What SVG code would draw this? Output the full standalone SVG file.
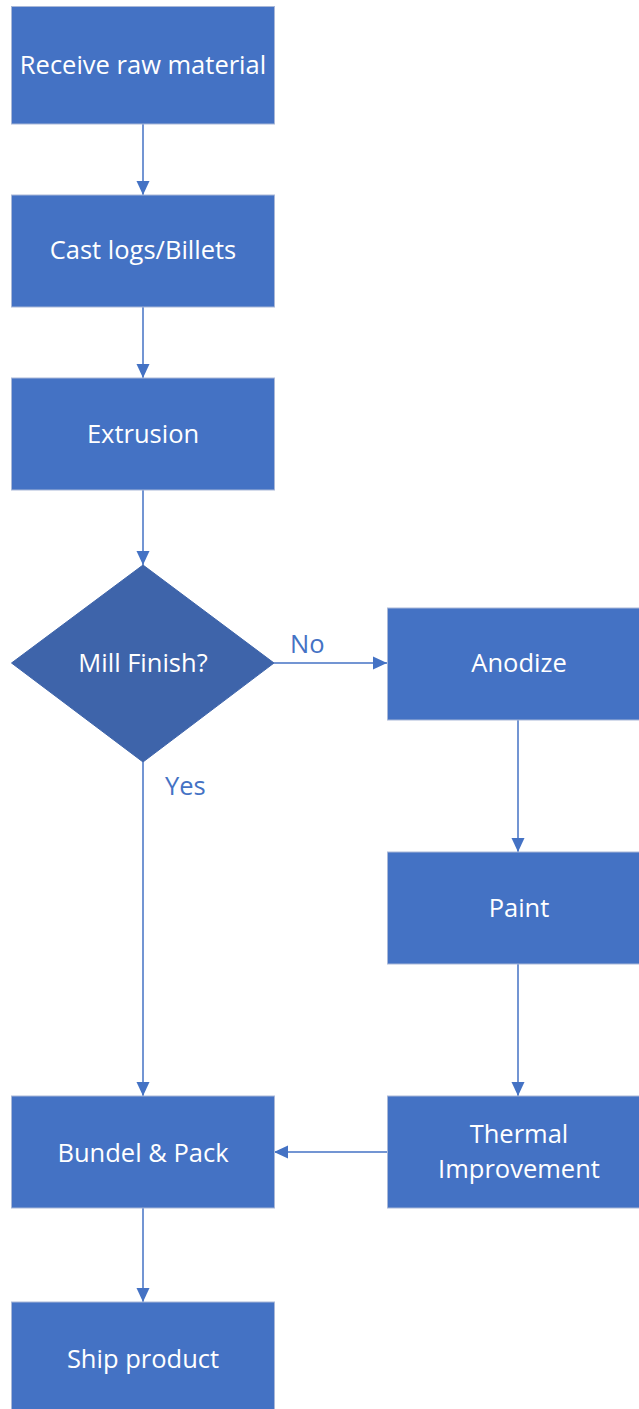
<svg xmlns="http://www.w3.org/2000/svg" width="639" height="1409" viewBox="0 0 639 1409">
<defs>
<marker id="arr" markerUnits="userSpaceOnUse" markerWidth="14" markerHeight="14" viewBox="0 0 14 14" refX="14" refY="7" orient="auto">
<path d="M0,0.5 L14,7 L0,13.5 Z" fill="#4472C4"/>
</marker>
<style>
.box{fill:#4472C4;stroke:#A9B8D8;stroke-width:1}
.dia{fill:#3E64AA;stroke:#3E64AA;stroke-width:1}
.t{font-family:"Open Sans","Liberation Sans",sans-serif;font-size:25.5px;fill:#FFFFFF;text-anchor:middle}
.lbl{font-family:"Open Sans","Liberation Sans",sans-serif;font-size:25.5px;fill:#4472C4}
.c{fill:none;stroke:#4472C4;stroke-width:1.5;marker-end:url(#arr)}
</style>
</defs>
<rect width="639" height="1409" fill="#FFFFFF"/>
<g id="connectors">
<line class="c" x1="143" y1="124" x2="143" y2="195"/>
<line class="c" x1="143" y1="307" x2="143" y2="378"/>
<line class="c" x1="143" y1="490" x2="143" y2="565"/>
<line class="c" x1="274" y1="663" x2="387" y2="663"/>
<line class="c" x1="518" y1="720" x2="518" y2="852"/>
<line class="c" x1="518" y1="964" x2="518" y2="1096"/>
<line class="c" x1="387" y1="1152" x2="274" y2="1152"/>
<line class="c" x1="143" y1="762" x2="143" y2="1096"/>
<line class="c" x1="143" y1="1208" x2="143" y2="1302"/>
<text class="lbl" x="290" y="653">No</text>
<text class="lbl" x="165" y="795">Yes</text>
</g>
<g id="receive">
<rect class="box" x="11.5" y="6.5" width="263" height="117.5"/>
<text class="t" x="143" y="74">Receive raw material</text>
</g>
<g id="cast">
<rect class="box" x="11.5" y="195" width="263" height="112"/>
<text class="t" x="143" y="259">Cast logs/Billets</text>
</g>
<g id="extrusion">
<rect class="box" x="11.5" y="378" width="263" height="112"/>
<text class="t" x="143" y="443">Extrusion</text>
</g>
<g id="mill">
<polygon class="dia" points="143,565 274,663 143,762 11.5,663"/>
<text class="t" x="143" y="672">Mill Finish?</text>
</g>
<g id="anodize">
<rect class="box" x="387.5" y="608" width="263" height="112"/>
<text class="t" x="519" y="672">Anodize</text>
</g>
<g id="paint">
<rect class="box" x="387.5" y="852" width="263" height="112"/>
<text class="t" x="519" y="917">Paint</text>
</g>
<g id="thermal">
<rect class="box" x="387.5" y="1096" width="263" height="112"/>
<text class="t" x="519" y="1143">Thermal</text>
<text class="t" x="519" y="1178">Improvement</text>
</g>
<g id="bundle">
<rect class="box" x="11.5" y="1096" width="263" height="112"/>
<text class="t" x="143" y="1162">Bundel &amp; Pack</text>
</g>
<g id="ship">
<rect class="box" x="11.5" y="1302" width="263" height="112"/>
<text class="t" x="143" y="1368">Ship product</text>
</g>
</svg>
